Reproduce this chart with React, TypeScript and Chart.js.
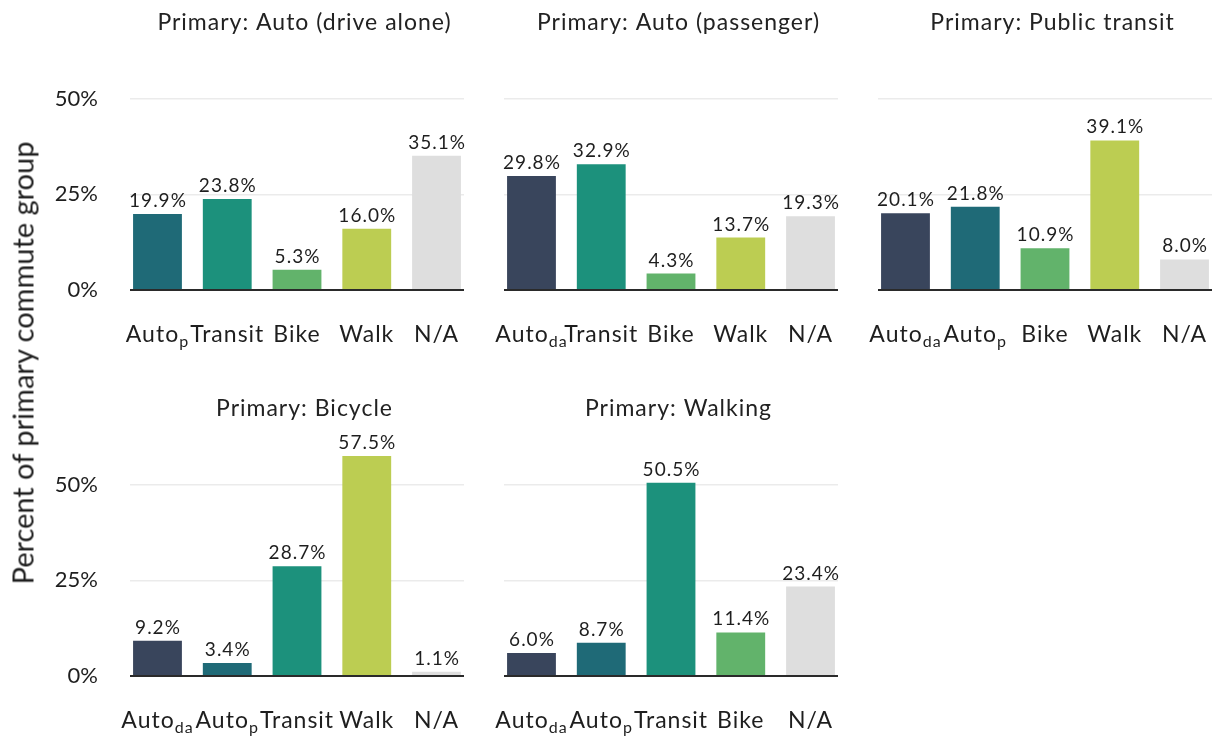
import React, { useEffect, useRef } from "react";
import { Chart, registerables } from "chart.js";

Chart.register(...registerables);

// ---------- data ----------
const yTickValues = [0, 25, 50];
const yAxisMax = 60.4;
const yAxisTitle = "Percent of primary commute group";

const titleDriveAlone = "Primary: Auto (drive alone)";
const catsDriveAlone = ["Auto_p", "Transit", "Bike", "Walk", "N/A"];
const valsDriveAlone = [19.9, 23.8, 5.3, 16.0, 35.1];

const titlePassenger = "Primary: Auto (passenger)";
const catsPassenger = ["Auto_da", "Transit", "Bike", "Walk", "N/A"];
const valsPassenger = [29.8, 32.9, 4.3, 13.7, 19.3];

const titleTransit = "Primary: Public transit";
const catsTransit = ["Auto_da", "Auto_p", "Bike", "Walk", "N/A"];
const valsTransit = [20.1, 21.8, 10.9, 39.1, 8.0];

const titleBicycle = "Primary: Bicycle";
const catsBicycle = ["Auto_da", "Auto_p", "Transit", "Walk", "N/A"];
const valsBicycle = [9.2, 3.4, 28.7, 57.5, 1.1];

const titleWalking = "Primary: Walking";
const catsWalking = ["Auto_da", "Auto_p", "Transit", "Bike", "N/A"];
const valsWalking = [6.0, 8.7, 50.5, 11.4, 23.4];

// ---------- styles ----------
const COLORS: Record<string, string> = {
  Auto_da: "#39455c",
  Auto_p: "#1f6a77",
  Transit: "#1c917c",
  Bike: "#62b36b",
  Walk: "#bccd52",
  "N/A": "#dedede",
};
const FONT = "Lato, 'Open Sans', sans-serif";
const TEXT = "#1e1e1e";

type Box = { x: number; y: number; w: number; h: number };
type Plot = { l: number; t: number; r: number; b: number };
type Spec = {
  title: string;
  cats: string[];
  vals: number[];
  box: Box;
  plot: Plot;
  showY: boolean;
};

const TOP_T = 59, TOP_B = 290, BOT_T = 445, BOT_B = 676;

const panels: Spec[] = [
  { title: titleDriveAlone, cats: catsDriveAlone, vals: valsDriveAlone, box: { x: 0, y: 0, w: 470, h: 368 }, plot: { l: 130, t: TOP_T, r: 464, b: TOP_B }, showY: true },
  { title: titlePassenger, cats: catsPassenger, vals: valsPassenger, box: { x: 470, y: 0, w: 390, h: 368 }, plot: { l: 504, t: TOP_T, r: 838, b: TOP_B }, showY: false },
  { title: titleTransit, cats: catsTransit, vals: valsTransit, box: { x: 860, y: 0, w: 357, h: 368 }, plot: { l: 878, t: TOP_T, r: 1212, b: TOP_B }, showY: false },
  { title: titleBicycle, cats: catsBicycle, vals: valsBicycle, box: { x: 0, y: 368, w: 470, h: 368 }, plot: { l: 130, t: BOT_T, r: 464, b: BOT_B }, showY: true },
  { title: titleWalking, cats: catsWalking, vals: valsWalking, box: { x: 470, y: 368, w: 390, h: 368 }, plot: { l: 504, t: BOT_T, r: 838, b: BOT_B }, showY: false },
];

function setSpacing(ctx: any, v: string) {
  try {
    ctx.letterSpacing = v;
  } catch (e) {
    /* ignore */
  }
}

function Panel({ spec }: { spec: Spec }) {
  const ref = useRef<HTMLCanvasElement | null>(null);
  useEffect(() => {
    const canvas = ref.current;
    if (!canvas) return;
    const { box, plot } = spec;

    const decor = {
      id: "panelDecor",
      afterDatasetsDraw(chart: any) {
        const ctx = chart.ctx as CanvasRenderingContext2D;
        const xs = chart.scales.x;
        const ys = chart.scales.y;
        const area = chart.chartArea;
        ctx.save();
        // baseline
        const y0 = ys.getPixelForValue(0);
        ctx.strokeStyle = "#2a2a2a";
        ctx.lineWidth = 2;
        ctx.beginPath();
        ctx.moveTo(area.left, y0);
        ctx.lineTo(area.right, y0);
        ctx.stroke();

        setSpacing(ctx, "1px");
        // value labels
        ctx.fillStyle = TEXT;
        ctx.textAlign = "center";
        ctx.textBaseline = "alphabetic";
        ctx.font = `19px ${FONT}`;
        spec.vals.forEach((v, i) => {
          const x = xs.getPixelForValue(i);
          const y = ys.getPixelForValue(v) - 7;
          ctx.fillText(`${v.toFixed(1)}%`, x + 0.5, y);
        });

        // category labels with subscripts
        ctx.textAlign = "left";
        const mainFont = `23px ${FONT}`;
        const subFont = `16px ${FONT}`;
        const baseY = area.bottom + 52;
        spec.cats.forEach((c, i) => {
          const [main, sub] = c.split("_");
          ctx.font = mainFont;
          const wMain = ctx.measureText(main).width;
          let wSub = 0;
          if (sub) {
            ctx.font = subFont;
            wSub = ctx.measureText(sub).width;
          }
          const cx = xs.getPixelForValue(i);
          const start = cx - (wMain + wSub) / 2;
          ctx.font = mainFont;
          ctx.fillText(main, start, baseY);
          if (sub) {
            ctx.font = subFont;
            ctx.fillText(sub, start + wMain, baseY + 5);
          }
        });

        // facet title
        ctx.font = `23px ${FONT}`;
        ctx.textAlign = "center";
        ctx.fillStyle = "#222";
        ctx.fillText(spec.title, (area.left + area.right) / 2 + 7.5, area.top - 29);
        setSpacing(ctx, "0px");
        ctx.restore();
      },
    };

    const chart = new Chart(canvas, {
      type: "bar",
      data: {
        datasets: [
          {
            data: spec.vals.map((v, i) => ({ x: i, y: v })),
            backgroundColor: spec.cats.map((c) => COLORS[c]),
            borderWidth: 0,
            barPercentage: 0.7,
            categoryPercentage: 1,
          },
        ],
      },
      options: {
        animation: false,
        responsive: false,
        maintainAspectRatio: false,
        devicePixelRatio: 1,
        events: [],
        layout: {
          padding: {
            left: 0,
            right: box.x + box.w - plot.r,
            top: plot.t - box.y,
            bottom: box.y + box.h - plot.b,
          },
        },
        plugins: {
          legend: { display: false },
          tooltip: { enabled: false },
          title: { display: false },
        },
        scales: {
          x: {
            type: "linear",
            display: false,
            min: -0.394,
            max: spec.cats.length - 1 + 0.394,
            offset: false,
          },
          y: {
            type: "linear",
            min: 0,
            max: yAxisMax,
            afterFit: (s: any) => {
              s.width = plot.l - box.x;
            },
            afterBuildTicks: (s: any) => {
              s.ticks = yTickValues.map((v) => ({ value: v }));
            },
            border: { display: false },
            grid: {
              color: (c: any) => (c.tick && c.tick.value === 0 ? "rgba(0,0,0,0)" : "#ebebeb"),
              lineWidth: 1.5,
              drawTicks: false,
            },
            ticks: {
              display: spec.showY,
              padding: 32,
              color: TEXT,
              font: { family: FONT, size: 22 },
              callback: (v: any) => `${v}%`,
            },
          },
        },
      } as any,
      plugins: [decor],
    });
    return () => chart.destroy();
  }, [spec]);

  return (
    <canvas
      ref={ref}
      width={spec.box.w}
      height={spec.box.h}
      style={{
        position: "absolute",
        left: spec.box.x,
        top: spec.box.y,
        width: spec.box.w,
        height: spec.box.h,
      }}
    />
  );
}

export default function App() {
  return (
    <div
      style={{
        position: "fixed",
        left: 0,
        top: 0,
        width: 1217,
        height: 736,
        background: "#fff",
        overflow: "hidden",
      }}
    >
      {panels.map((p, i) => (
        <Panel key={i} spec={p} />
      ))}
      <div
        style={{
          position: "absolute",
          left: 22,
          top: 363,
          transform: "translate(-50%, -50%) rotate(-90deg)",
          whiteSpace: "nowrap",
          fontFamily: FONT,
          fontSize: 29,
          color: TEXT,
        }}
      >
        {yAxisTitle}
      </div>
    </div>
  );
}
